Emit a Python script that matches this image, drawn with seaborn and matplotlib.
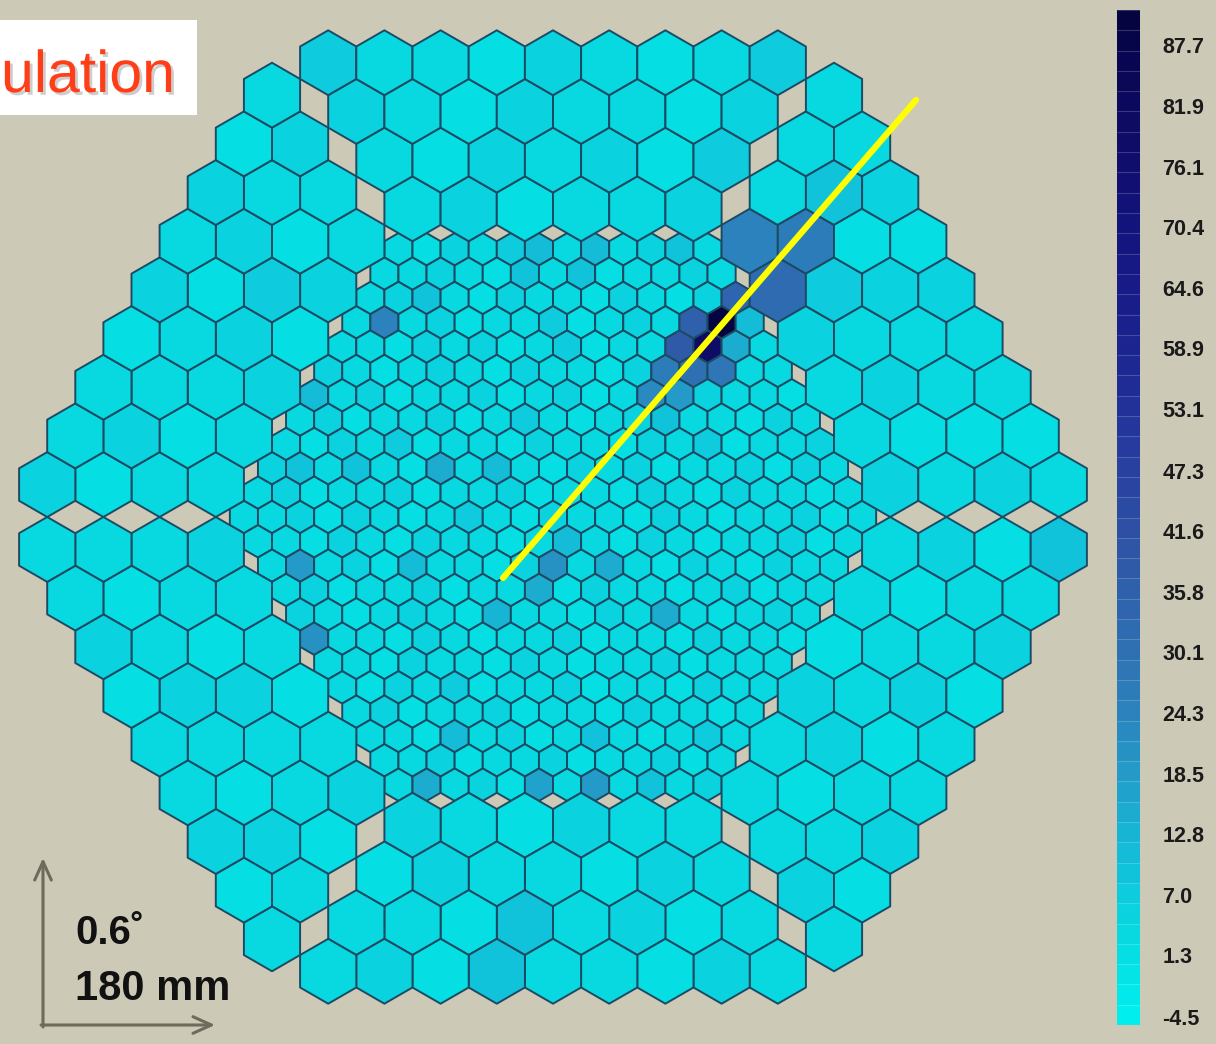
import numpy as np
import matplotlib
matplotlib.use("Agg")
import matplotlib.pyplot as plt
import matplotlib.patheffects as pe
import seaborn as sns
from matplotlib.collections import PolyCollection
from matplotlib.colors import LinearSegmentedColormap, Normalize
from matplotlib.cm import ScalarMappable
from matplotlib.patches import Rectangle

sns.set_theme(style="white")
plt.rcParams["font.family"] = ["Liberation Sans", "DejaVu Sans"]

# ---------------- colour scale ----------------
tick_values = [-4.5, 1.3, 7.0, 12.8, 18.5, 24.3, 30.1, 35.8, 41.6,
               47.3, 53.1, 58.9, 64.6, 70.4, 76.1, 81.9, 87.7]
scale_min, scale_max = -5.3, 91.0
palette_anchor_values = [-5.3, 1.3, 7.0, 12.8, 18.5, 24.3, 30.1, 35.8, 41.6,
                         47.3, 53.1, 58.9, 64.6, 70.4, 76.1, 81.9, 87.7, 91.0]
palette_anchor_colors = ["#00eeee", "#06dde3", "#0fc9dc", "#18b3d3", "#2499c8",
                         "#2b82bc", "#2f70b3", "#2f60ab", "#2d50a4", "#2941a0",
                         "#223299", "#1c2590", "#181b88", "#14147e", "#100f70",
                         "#0c0a60", "#080650", "#050440"]

# ---------------- inner camera: small pixels, row by row (top to bottom) ----------------
inner_rows = [
    [3, 2, 5, 4, 8, 12, 4, 12, 3, 5, 9, 3],
    [4, 3, 6, 3, 2, 10, 3, 10, 2, 4, 3, 5, 3],
    [3, 5, 10, 3, 2, 6, 3, 4, 2, 5, 3, 2, 6, 34],
    [4, 25, 3, 6, 2, 4, 3, 7, 2, 3, 5, 3, 36, 90, 12],
    [3, 4, 2, 6, 3, 5, 2, 3, 7, 2, 4, 3, 38, 78, 15, 4],
    [5, 3, 2, 4, 6, 3, 2, 5, 3, 4, 2, 6, 26, 30, 28, 4, 3],
    [12, 3, 5, 2, 4, 3, 6, 2, 3, 5, 2, 4, 22, 18, 5, 3, 4, 2],
    [3, 6, 2, 4, 3, 5, 2, 3, 7, 4, 2, 3, 5, 10, 3, 4, 2, 6, 3],
    [4, 2, 5, 3, 8, 2, 4, 3, 2, 6, 3, 4, 2, 5, 3, 8, 2, 4, 3, 5],
    [5, 9, 3, 9, 4, 2, 15, 3, 12, 4, 2, 5, 3, 6, 2, 4, 3, 5, 2, 6, 3],
    [3, 5, 2, 4, 3, 6, 2, 4, 3, 5, 2, 3, 4, 2, 6, 3, 2, 5, 3, 4, 2, 3],
    [4, 3, 6, 2, 5, 3, 2, 4, 7, 3, 2, 5, 3, 4, 2, 6, 3, 2, 4, 3, 5, 2, 4],
    [3, 4, 2, 5, 3, 2, 6, 3, 4, 2, 3, 12, 4, 2, 5, 3, 2, 4, 3, 6, 2, 3],
    [4, 18, 3, 5, 2, 12, 3, 4, 2, 5, 20, 3, 14, 4, 2, 5, 3, 2, 6, 3, 4],
    [3, 5, 2, 4, 3, 6, 2, 4, 3, 14, 2, 5, 3, 4, 2, 3, 5, 2, 4, 3],
    [5, 3, 2, 4, 6, 3, 2, 13, 4, 3, 2, 5, 3, 15, 4, 2, 3, 5, 3],
    [20, 3, 4, 2, 5, 3, 2, 4, 3, 6, 2, 4, 3, 2, 5, 3, 4, 2],
    [3, 4, 2, 6, 3, 4, 2, 5, 3, 2, 4, 3, 6, 2, 3, 4, 3],
    [4, 2, 5, 3, 8, 2, 4, 3, 5, 2, 4, 3, 2, 5, 3, 4],
    [3, 5, 2, 4, 3, 6, 2, 3, 4, 2, 5, 3, 4, 2, 3],
    [3, 4, 2, 12, 3, 5, 2, 4, 10, 3, 2, 4, 8, 3],
    [4, 3, 5, 2, 4, 3, 6, 2, 4, 3, 5, 2, 3],
    [4, 14, 3, 5, 2, 16, 3, 18, 4, 10, 3, 5],
]

# ---------------- outer camera: large pixels in six trapezoid sectors ----------------
# each sector: 4 rings (6, 7, 8, 9 pixels), ordered clockwise, starting at the top sector
sector_top = [
    [3, 5, 2, 4, 3, 6],
    [4, 2, 5, 3, 6, 2, 7],
    [5, 3, 2, 6, 3, 4, 2, 5],
    [8, 3, 4, 2, 5, 3, 2, 4, 8],
]
sector_upper_right = [
    [25, 32, 5, 4, 3, 6],
    [4, 27, 8, 3, 5, 2, 4],
    [3, 9, 2, 6, 3, 4, 2, 5],
    [4, 3, 6, 2, 5, 3, 4, 2, 3],
]
sector_lower_right = [
    [3, 4, 2, 5, 3, 4],
    [5, 2, 4, 3, 6, 2, 3],
    [2, 4, 3, 5, 2, 4, 3, 6],
    [10, 3, 5, 2, 4, 3, 6, 2, 4],
]
sector_bottom = [
    [4, 3, 5, 2, 4, 6],
    [3, 6, 2, 4, 3, 5, 2],
    [4, 2, 5, 3, 10, 2, 4, 3],
    [3, 5, 2, 4, 3, 10, 2, 5, 3],
]
sector_lower_left = [
    [5, 3, 2, 4, 3, 5],
    [2, 4, 3, 5, 2, 4, 3],
    [3, 5, 2, 4, 6, 3, 2, 4],
    [4, 2, 5, 3, 4, 2, 6, 3, 4],
]
sector_upper_left = [
    [3, 4, 6, 2, 5, 3],
    [4, 2, 3, 5, 8, 2, 4],
    [2, 5, 3, 4, 2, 6, 3, 5],
    [5, 3, 4, 2, 6, 3, 5, 2, 4],
]
outer_sectors = [sector_top, sector_upper_right, sector_lower_right,
                 sector_bottom, sector_lower_left, sector_upper_left]

# fitted shower axis
axis_line_x = [-1.78, 12.92]
axis_line_y = [-2.17, 14.84]


# ---------------- geometry ----------------
def hexagon(cx, cy, radius):
    ang = np.deg2rad(90 + 60 * np.arange(6))
    return np.column_stack([cx + radius * np.cos(ang), cy + radius * np.sin(ang)])


small_r = 1 / np.sqrt(3)          # pitch of inner pixels = 1 unit
large_r = 2 / np.sqrt(3)
row_step = np.sqrt(3) / 2

polys, values = [], []
n_rings = (len(inner_rows) - 1) // 2
for i, row in enumerate(inner_rows):
    r = i - n_rings
    n = len(row)
    y = -r * row_step
    for j, v in enumerate(row):
        x = j - (n - 1) / 2
        polys.append(hexagon(x, y, small_r))
        values.append(v)

first_ring_height = n_rings * row_step + small_r / 2 + large_r
for s, sector in enumerate(outer_sectors):
    theta = np.deg2rad(-60 * s)
    c, sn = np.cos(theta), np.sin(theta)
    for k, row in enumerate(sector):
        n = len(row)
        y0 = first_ring_height + k * 2 * row_step
        for j, v in enumerate(row):
            x0 = 2 * (j - (n - 1) / 2)
            x = x0 * c - y0 * sn
            y = x0 * sn + y0 * c
            polys.append(hexagon(x, y, large_r))
            values.append(v)

# ---------------- figure ----------------
W, H = 1216, 1044
bg = "#cdc9b7"
fig = plt.figure(figsize=(W / 100, H / 100), dpi=100)
fig.patch.set_facecolor(bg)

pitch_px = 28.1
cx_px, cy_px = 553, 517
ax = fig.add_axes([0, 0, 1, 1])
ax.set_facecolor(bg)
ax.set_xlim(-cx_px / pitch_px, (W - cx_px) / pitch_px)
ax.set_ylim(-(H - cy_px) / pitch_px, cy_px / pitch_px)
ax.axis("off")

cmap = LinearSegmentedColormap.from_list(
    "camera",
    [((v - scale_min) / (scale_max - scale_min), col)
     for v, col in zip(palette_anchor_values, palette_anchor_colors)],
    N=50)
norm = Normalize(vmin=scale_min, vmax=scale_max)

pc = PolyCollection(polys, array=np.array(values, dtype=float), cmap=cmap, norm=norm,
                    edgecolors="#1c4a62", linewidths=1.4)
ax.add_collection(pc)

sns.lineplot(x=axis_line_x, y=axis_line_y, ax=ax, color="#ffff00", lw=4.5,
             sort=False, estimator=None)

# ---------------- colour bar ----------------
cax = fig.add_axes([1117 / W, 19 / H, 23 / W, 1015 / H])
cb = fig.colorbar(ScalarMappable(norm=norm, cmap=cmap), cax=cax, ticks=tick_values)
cb.outline.set_visible(False)
cb.ax.tick_params(length=0, pad=16, labelsize=15.5, colors="#1a1a1a")
cb.ax.set_yticklabels([f"{t:.1f}" for t in tick_values], fontweight="bold")
cax.hlines(np.linspace(scale_min, scale_max, 51), 0, 1,
           transform=cax.get_yaxis_transform(), colors="white", alpha=0.18, lw=0.8)


# ---------------- annotations ----------------
def fig_px(x, y):
    return (x, H - y)


fig.patches.append(Rectangle(fig_px(0, 115), 197, 95, transform=None,
                             facecolor="white", edgecolor="none", zorder=5))
fig.text(1 / W, 1 - 92 / H, "ulation", ha="left", va="baseline",
         fontsize=42.5, color="#ff3d17", zorder=7,
         path_effects=[pe.SimplePatchShadow(offset=(2, -2), shadow_rgbFace="#b8b8b8", alpha=0.7),
                       pe.Normal()])

arrow_kw = dict(arrowstyle="->,head_length=1.1,head_width=0.5", color="#6e6a5c", lw=2.2,
                shrinkA=0, shrinkB=0)
ax.annotate("", xy=fig_px(43, 858), xytext=fig_px(43, 1027),
            xycoords="figure pixels", textcoords="figure pixels", arrowprops=arrow_kw)
ax.annotate("", xy=fig_px(215, 1025), xytext=fig_px(41, 1025),
            xycoords="figure pixels", textcoords="figure pixels", arrowprops=arrow_kw)
fig.text(75 / W, 1 - 944 / H, "0.6\u02da", fontsize=29, fontweight="bold", color="#111111")
fig.text(75 / W, 1 - 1000 / H, "180 mm", fontsize=30, fontweight="bold", color="#111111")

fig.savefig("out.png", dpi=100, facecolor=bg)
